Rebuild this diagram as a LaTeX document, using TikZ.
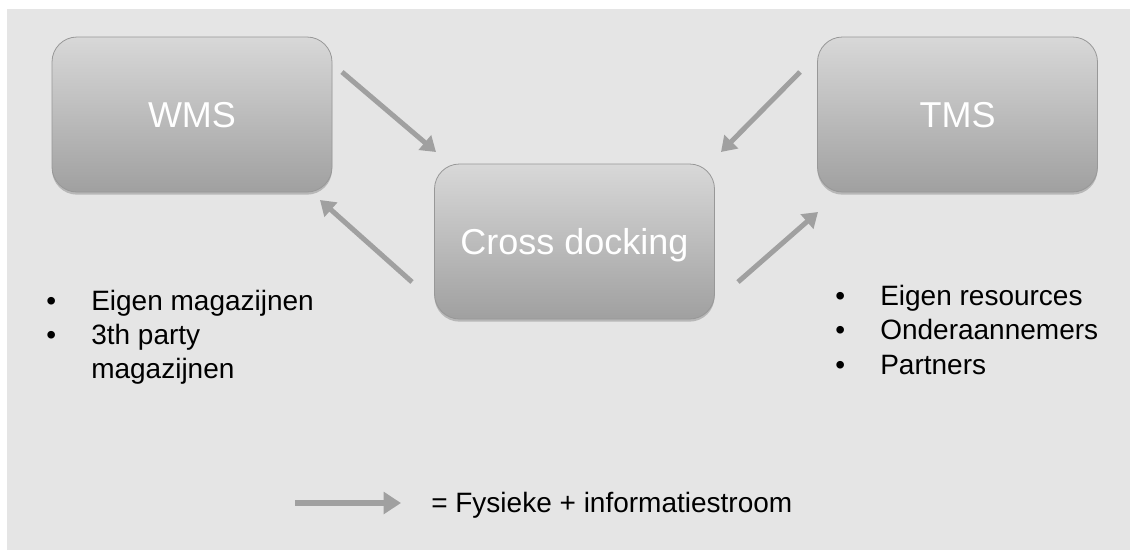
\documentclass[tikz,border=0pt]{standalone}
\usepackage{fontspec}
\setmainfont{Liberation Sans}
\usetikzlibrary{arrows.meta,shadows}
\definecolor{bgc}{HTML}{E5E5E5}
\definecolor{boxtop}{HTML}{D8D8D8}
\definecolor{boxbot}{HTML}{A0A0A0}
\definecolor{boxline}{HTML}{989898}
\definecolor{arrc}{HTML}{A0A0A0}
\newcommand\mybul{\makebox[33.75pt][l]{•}}
\newcommand\mybulsp{\makebox[33.75pt][l]{}}
\tikzset{
  sysbox/.style={rounded corners=18.75pt, minimum width=210pt, minimum height=116.25pt,
    draw=boxline, line width=0.6pt, top color=boxtop, bottom color=boxbot,
    text=white, font=\fontsize{27}{32}\selectfont, text height=19.33pt, text depth=0pt,
    drop shadow={shadow xshift=0pt, shadow yshift=-2pt, opacity=0.2, fill=black}},
  listtxt/.style={anchor=base west, inner sep=0pt, font=\fontsize{21}{25}\selectfont, text=black},
  flow/.style={draw=arrc, line width=3.75pt, -{Triangle[length=11pt, width=14pt]}},
}
\begin{document}
\begin{tikzpicture}[x=0.75pt,y=-0.75pt]
\useasboundingbox (0,0) rectangle (1130,550);
\fill[white] (0,0) rectangle (1130,550);
\fill[bgc] (7,9) rectangle (1130,550);

\node[sysbox] (wms) at (192,114.5) {WMS};
\node[sysbox] (tms) at (957.5,114.5) {TMS};
\node[sysbox] (cd) at (574.5,241.5) {Cross docking};

\coordinate (a1s) at (342,72);  \coordinate (a1e) at (436,152);
\coordinate (a2s) at (412,282); \coordinate (a2e) at (320,200);
\coordinate (a3s) at (800,72);  \coordinate (a3e) at (721,152);
\coordinate (a4s) at (738,282); \coordinate (a4e) at (818,212);
\draw[flow] (a1s) -- (a1e);
\draw[flow] (a2s) -- (a2e);
\draw[flow] (a3s) -- (a3e);
\draw[flow] (a4s) -- (a4e);

\node[listtxt] (l1) at (46,310) {\mybul Eigen magazijnen};
\node[listtxt] (l2) at (46,344) {\mybul 3th party};
\node[listtxt] (l3) at (46,378) {\mybulsp magazijnen};

\node[listtxt] (r1) at (835,305) {\mybul Eigen resources};
\node[listtxt] (r2) at (835,339.5) {\mybul Onderaannemers};
\node[listtxt] (r3) at (835,374) {\mybul Partners};

\coordinate (lgs) at (295,503); \coordinate (lge) at (401,503);
\draw[flow, line width=4.5pt, -{Triangle[length=13pt, width=16pt]}] (lgs) -- (lge);
\node[listtxt] (leg) at (431,512) {= Fysieke + informatiestroom};
\end{tikzpicture}
\end{document}
